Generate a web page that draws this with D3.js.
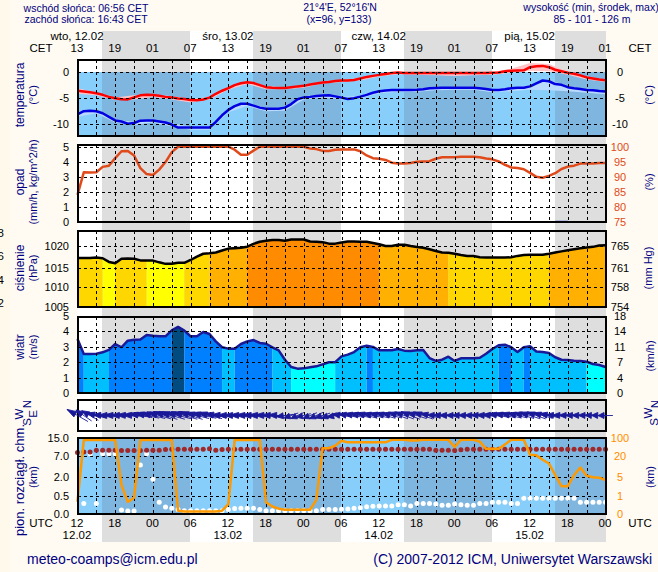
<!DOCTYPE html>
<html>
<head>
<meta charset="utf-8">
<script src="https://cdn.jsdelivr.net/npm/d3@7"></script>
<style>
    html, body { margin: 0; padding: 0; background: #fffbf2; overflow: hidden; }
    svg { display: block; }
    svg text { font-family: "Liberation Sans", Arial, sans-serif; }
</style>
</head>
<body>
<svg id="chart" width="658" height="572"></svg>
<script>
// hour 0 = 12.02 12 UTC, one value per hour
const hours = d3.range(85);
const nightBands = [[3.9, 17.9], [27.9, 41.9], [51.9, 65.9], [75.9, 84]];

const dayLabels = ["wto, 12.02", "śro, 13.02", "czw, 14.02", "pią, 15.02"];
const dateLabels = ["12.02", "13.02", "14.02", "15.02"];
const dayHours = [0, 24, 48, 72];
const cetLabels = ["13", "19", "01", "07", "13", "19", "01", "07", "13", "19", "01", "07", "13", "19", "01"];
const utcLabels = ["12", "18", "00", "06", "12", "18", "00", "06", "12", "18", "00", "06", "12", "18", "00"];

const temperature = [-3.6, -3.75, -3.9, -4.1, -4.4, -4.8, -5.05, -5.25, -5.3, -4.9, -4.5, -4.4, -4.45, -4.6, -4.8, -4.9, -5.1, -5.2, -5.4, -5.45, -5.3, -4.95, -4.2, -3.6, -3.1, -2.5, -2.15, -1.95, -2.1, -2.5, -2.9, -3, -3.05, -3.05, -2.9, -2.75, -2.65, -2.4, -2.2, -2, -1.9, -1.7, -1.6, -1.6, -1.5, -1.2, -0.9, -0.7, -0.5, -0.35, -0.15, -0.05, -0.15, -0.15, -0.15, -0.15, -0.15, -0.15, -0.15, -0.15, -0.15, -0.15, -0.15, -0.15, -0.15, -0.15, -0.1, -0.05, 0.2, 0.3, 0.35, 0.4, 1, 1.2, 1.25, 1, 0.5, 0.2, -0.1, -0.3, -0.6, -1, -1.2, -1.4, -1.55];
const dewPoint = [-8.2, -7.6, -7.5, -7.6, -8, -8.7, -9.4, -9.6, -10.05, -9.9, -9.45, -9.4, -9.4, -9.6, -9.8, -10.2, -10.8, -10.8, -10.8, -10.8, -10.8, -10.8, -9.7, -8.4, -7.35, -6.6, -6.15, -6.15, -6.5, -6.9, -7.1, -7.1, -7.1, -6.9, -6.2, -5.25, -4.9, -4.8, -4.65, -4.55, -4.5, -4.7, -4.95, -5.2, -5.05, -4.75, -4.4, -4, -3.7, -3.55, -3.45, -3.45, -3.45, -3.45, -3.4, -3.3, -3.1, -3.05, -3, -3, -3, -3, -3, -3, -3.1, -3.25, -3.45, -3.45, -3.3, -3.1, -3, -3, -2.75, -2.15, -1.6, -1.75, -2.3, -2.45, -2.9, -3.1, -3.25, -3.45, -3.5, -3.65, -3.75];

// spread around the temperature lines, one value every 3 hours
const spreadHours = d3.range(0, 85, 3);
const temperatureHigh = [-3.1, -3.9, -4.9, -4.5, -4.3, -4.7, -5.2, -4.8, -2.9, -1.7, -2.7, -2.9, -2.5, -1.8, -1.5, -1.1, -0.4, 0, -0.1, -0.1, -0.1, -0.1, 0, 0.7, 1.8, 1.6, 0.1, -0.8, -1.4];
const temperatureLow = [-4.2, -4.5, -5.4, -5.3, -4.8, -5.3, -5.9, -5.3, -3.4, -2.3, -3.3, -3.3, -3, -2.2, -1.9, -1.6, -0.8, -0.4, -0.5, -0.6, -0.7, -0.6, -0.5, -0.1, 0.3, 0.2, -0.5, -1.4, -1.9];
const dewPointHigh = [-8, -7.4, -9.2, -9.7, -9.2, -10, -10.6, -10.6, -7.2, -6, -6.9, -6.9, -4.7, -4.4, -4.8, -4.6, -3.5, -3.3, -3.2, -2.9, -2.8, -2.8, -3.3, -2.9, -2.6, -1.5, -2.7, -3.3, -3.6];
const dewPointLow = [-8.7, -8, -9.8, -10.3, -9.8, -10.6, -11.2, -11.2, -7.8, -6.6, -7.6, -7.5, -5.3, -4.9, -5.3, -5.1, -4.1, -3.8, -3.8, -3.5, -3.4, -3.4, -3.9, -3.7, -3.4, -3.5, -3.7, -4, -4.3];

const humidity = [84, 91.5, 91.4, 91.5, 93.3, 93.7, 96.2, 98.5, 98.6, 97.1, 92.9, 90.9, 90.6, 92.4, 94.9, 98.2, 100, 100, 100, 100, 100, 100, 100, 100, 100, 99, 97.3, 97.3, 98.7, 100, 100, 100, 100, 100, 100, 100, 100, 99.4, 99.2, 98.6, 98.6, 99, 99.1, 99.1, 99.1, 98.5, 97.1, 96.2, 96, 95.6, 94.7, 94.4, 94.4, 94.6, 95, 95.1, 95.2, 96, 96.5, 96.5, 96.5, 96.7, 96.7, 96.7, 96.5, 96.1, 95.8, 95.1, 94, 93.1, 92.9, 92.5, 91.3, 90, 89.7, 90.3, 91.2, 92.6, 93.4, 93.7, 94.4, 94.4, 94.4, 94.6, 94.6];
const rainHours = [76, 77];
const rainValues = [0.08, 0.08];

const pressure = [1017.2, 1017.2, 1017.2, 1017.3, 1017.15, 1016.3, 1016, 1017.05, 1017.1, 1017.05, 1016.65, 1016.65, 1016.6, 1016.2, 1015.85, 1015.85, 1016.1, 1016.1, 1016.75, 1017.55, 1018.2, 1018.3, 1018.5, 1018.95, 1019.4, 1019.5, 1019.6, 1019.85, 1020.5, 1021, 1021.2, 1021.4, 1021.4, 1021.2, 1021.5, 1021.5, 1021.5, 1021.05, 1021, 1020.9, 1020.55, 1020.55, 1020.8, 1021.05, 1021.05, 1021, 1021, 1020.7, 1020.4, 1020, 1020, 1020.3, 1020.3, 1020, 1019.75, 1019.6, 1019.25, 1018.85, 1018.5, 1018.45, 1018.2, 1017.9, 1017.65, 1017.65, 1017.4, 1017.3, 1017.3, 1017.3, 1017.3, 1017.4, 1017.7, 1017.9, 1017.95, 1017.95, 1017.95, 1018.2, 1018.5, 1018.75, 1019, 1019.25, 1019.5, 1019.65, 1019.8, 1020.1, 1020.15];
const pressureBandStarts = [0, 4, 6, 11, 17, 21, 27, 48, 59, 75];
const pressureBandEnds = [4, 6, 11, 17, 21, 27, 48, 59, 75, 84];
const pressureBandClasses = [1, 0, 1, 0, 1, 2, 3, 2, 1, 2];

const wind = [3.5, 2.53, 2.53, 2.55, 2.64, 2.8, 3.18, 2.97, 3.4, 3.46, 3.48, 3.77, 3.72, 3.68, 3.68, 4.07, 4.29, 4.05, 3.68, 3.68, 3.96, 3.83, 3.35, 2.97, 2.88, 2.88, 3.18, 3.35, 3.44, 3.25, 3.2, 2.97, 2.77, 2.16, 1.69, 1.58, 1.6, 1.67, 1.73, 1.86, 2, 2, 2.38, 2.49, 2.66, 2.97, 3.07, 2.99, 2.77, 2.77, 2.77, 2.86, 2.75, 2.73, 2.77, 2.79, 2.27, 2.08, 2.16, 2.36, 2.08, 2.25, 2.25, 2.25, 2.29, 2.55, 2.86, 3.1, 3.14, 2.97, 2.66, 2.97, 3.03, 2.7, 2.66, 2.6, 2.32, 2.16, 2.14, 2.1, 2.08, 2.03, 1.88, 1.82, 1.69];
const windBandStarts = [0, 1, 5, 15, 17, 23, 25, 31, 34, 41, 46, 47, 67, 69, 71, 72, 81];
const windBandEnds = [1, 5, 15, 17, 23, 25, 31, 34, 41, 46, 47, 67, 69, 71, 72, 81, 84];
const windBandClasses = [2, 1, 2, 3, 2, 1, 2, 1, 0, 1, 2, 1, 2, 1, 2, 1, 0];
// tilt of the wind arrows, degrees off the time axis
const windTilt = [30, 35, 30, 15, 4, 2, 2, 2, 3, 3, 10, 12, 14, 16, 18, 16, 14, 16, 18, 14, 12, 14, 10, 4, 2, 2, 2, 2, 2, 2, 2, 2, 3, -8, -20, -25, -15, -22, -25, -18, -20, -12, 8, 10, 12, 12, 14, 12, 14, 16, 14, 18, 20, 22, 18, 20, 14, 4, 3, 2, 2, 2, 2, 2, 3, 3, 4, 10, 12, 14, 14, 16, 18, 20, 16, 12, 4, 3, 2, 2, 2, 2, 2, 2, 0];

const cloudTop = [8.5, 8.7, 8.7, 9.5, 9.5, 9.5, 9.5, 9.4, 9.4, 9.4, 9.4, 9.5, 9.5, 9.5, 9.8, 9.95, 9.95, 9.95, 9.95, 9.95, 9.95, 10.1, 9.5, 9.8, 9.95, 9.95, 9.95, 9.95, 9.95, 9.95, 9.95, 9.95, 9.95, 9.95, 9.95, 9.95, 9.95, 9.95, 9.95, 9.95, 9.95, 9.95, 9.95, 9.95, 9.95, 9.95, 9.95, 9.95, 9.95, 9.95, 9.95, 9.95, 9.95, 9.95, 9.95, 9.95, 9.95, 9.5, 9.5, 9.5, 9.4, 9.7, 9.95, 9.95, 9.95, 9.95, 9.95, 9.95, 9.95, 9.95, 9.95, 9.95, 9.95, 9.95, 9.95, 9.95, 9.95, 9.95, 9.95, 9.95, 9.95, 9.95, 9.95, 9.95, 9.95];
const cloudBase = [null, 0.29, 8, 0.29, 8, 8, 8, 0.11, 0.08, 0.08, 4.8, 8, 1.8, 0.32, 0.19, 0.16, 0.12, 0.09, 0.09, 0.09, 0.09, 0.09, 0.09, 0.09, 0.12, 0.15, 0.16, 0.16, 0.16, 0.12, 0.09, 0.09, 0.09, 0.09, 0.09, 0.09, 0.09, 0.09, 0.09, 0.12, 0.125, 0.12, 0.13, 0.14, 0.16, 0.17, 0.2, 0.21, 0.22, 0.22, 0.22, 0.25, 0.25, 0.22, 0.29, 0.29, 0.29, 0.27, 0.24, 0.24, 0.27, 0.25, 0.24, 0.24, 0.29, 0.29, 0.32, 0.32, 0.32, 0.29, 0.29, 0.43, 0.43, 0.43, 0.43, 0.43, 0.43, 0.43, 0.43, 0.43, 0.32, 0.32, 0.32, 0.32, 0.32];
const visibility = [0.68, 88.8, 88.8, 88.8, 88.8, 88.8, 88.8, 3.25, 0.66, 0.89, 88.8, 88.8, 88.8, 88.8, 88.8, 88.8, 0.18, 0.14, 0.14, 0.14, 0.14, 0.14, 0.14, 0.18, 0.54, 88.8, 88.8, 88.8, 88.8, 88.8, 0.64, 0.41, 0.29, 0.23, 0.23, 0.23, 0.23, 0.23, 0.77, 53.7, 53.7, 64.9, 86, 79, 79, 79, 79, 79, 79, 79, 90, 90, 90, 87, 87, 90, 90, 90, 90, 90, 59, 90, 90, 90, 82, 50.9, 50.9, 50.9, 70, 90, 90, 90, 25.6, 22.8, 17.3, 14.6, 6.2, 3, 3, 6.2, 11.6, 5.7, 4.9, 4.8, 4.3];

const temperatureTicks = [0, -5, -10];
const humidityTicks = [100, 95, 90, 85, 80, 75];
const rainTicks = [5, 4, 3, 2, 1, 0];
const pressureTicks = [1020, 1015, 1010, 1005];
const pressureMmLabels = ["765", "761", "758", "754"];
const windTicks = [0, 1, 2, 3, 4, 5];
const windKmhLabels = ["0", "4", "7", "11", "14", "18"];
const cloudTicks = [0, 0.5, 2, 7, 15];
const cloudLabels = ["0.0", "0.5", "2.0", "7.0", "15.0"];
const visibilityTicks = [0, 1, 5, 20, 100];

const navy = "#000080";
const pressureColors = ["#ffff00", "#ffd700", "#ffb000", "#ff8c00"];
const windColors = ["#00ffff", "#00bfff", "#0080ff", "#004c80"];
const skyDay = "#87cefa", skyNight = "#7fb6e0";

const svg = d3.select("#chart");
const x = d3.scaleLinear().domain([0, 84]).range([77.5, 605.5]);

const panels = {
    temperature: { top: 60, bottom: 136 },
    rain: { top: 145, bottom: 222 },
    pressure: { top: 231, bottom: 307 },
    wind: { top: 317, bottom: 393 },
    direction: { top: 400, bottom: 431 },
    cloud: { top: 438, bottom: 514 },
};
const left = 78, right = 606;

const yTemperature = d3.scaleLinear().domain([-10, 0]).range([123.5, 72.3]);
const yRain = d3.scaleLinear().domain([0, 5]).range([222, 146.7]);
const yHumidity = d3.scaleLinear().domain([75, 100]).range([222, 146.7]);
const yPressure = d3.scaleLinear().domain([1005, 1010, 1015, 1020]).range([307, 287.3, 267.5, 246]);
const yWind = d3.scaleLinear().domain([0, 5]).range([393, 316]);
const yCloud = d3.scaleLinear().domain(cloudTicks).range([514, 495.7, 476.7, 456, 437.5]);
const yVisibility = d3.scaleLinear().domain(visibilityTicks).range([514, 495.7, 476.7, 456, 437.5]);
const arrowLength = d3.scaleLinear().domain([0, 5]).range([3, 16]);

svg.append("rect").attr("width", 10).attr("height", 572).attr("fill", "#fff9ec");

// day and night stripes
const stripes = svg.append("g").attr("shape-rendering", "crispEdges");
stripes.append("rect")
    .attr("x", left).attr("y", 31)
    .attr("width", right - left).attr("height", 511)
    .attr("fill", "#fff");
stripes.selectAll("rect.night")
    .data(nightBands)
    .join("rect")
    .attr("class", "night")
    .attr("x", d => x(d[0])).attr("y", 31)
    .attr("width", d => x(d[1]) - x(d[0])).attr("height", 511)
    .attr("fill", "#dedede");

function sky(top, bottom) {
    const g = svg.append("g").attr("shape-rendering", "crispEdges");
    g.append("rect")
        .attr("x", left).attr("y", top)
        .attr("width", right - left).attr("height", bottom - top)
        .attr("fill", skyDay);
    g.selectAll("rect.night")
        .data(nightBands)
        .join("rect")
        .attr("class", "night")
        .attr("x", d => x(d[0])).attr("y", top)
        .attr("width", d => x(d[1]) - x(d[0])).attr("height", bottom - top)
        .attr("fill", skyNight);
}

function bandArea(values, y, starts, ends, classes, colors, bottom) {
    const area = d3.area().x(h => x(h)).y0(bottom).y1(h => y(values[h]));
    svg.append("g").selectAll("path")
        .data(starts)
        .join("path")
        .attr("d", (s, i) => area(d3.range(s, ends[i] + 1)))
        .attr("fill", (s, i) => colors[classes[i]]);
}

const seriesLine = (values, y) => d3.line().defined(h => values[h] !== null).x(h => x(h)).y(h => y(values[h]))(hours);

function drawLine(values, y, color, width) {
    svg.append("path")
        .attr("d", seriesLine(values, y))
        .attr("fill", "none")
        .attr("stroke", color)
        .attr("stroke-width", width)
        .attr("stroke-linejoin", "round");
}

function spread(high, low, y, color) {
    svg.append("path")
        .attr("d", d3.area().x((h, i) => x(h)).y0((h, i) => y(low[i])).y1((h, i) => y(high[i]))(spreadHours))
        .attr("fill", color);
}

// temperatura
sky(yTemperature(0), panels.temperature.bottom);
spread(temperatureHigh, temperatureLow, yTemperature, "#ffc4c8");
spread(dewPointHigh, dewPointLow, yTemperature, "#b9d9ff");
drawLine(temperature, yTemperature, "#ff0000", 2.5);
drawLine(dewPoint, yTemperature, "#0000e0", 2.5);

// opad
drawLine(humidity, yHumidity, "#e04a1a", 2.5);
svg.append("g").selectAll("rect")
    .data(rainHours)
    .join("rect")
    .attr("x", h => x(h)).attr("width", h => x(h + 1) - x(h))
    .attr("y", (h, i) => yRain(rainValues[i]))
    .attr("height", (h, i) => yRain(0) - yRain(rainValues[i]))
    .attr("fill", "#0033cc");

// ciśnienie
bandArea(pressure, yPressure, pressureBandStarts, pressureBandEnds, pressureBandClasses, pressureColors, panels.pressure.bottom);
drawLine(pressure, yPressure, "#000", 2.5);

// wiatr
bandArea(wind, yWind, windBandStarts, windBandEnds, windBandClasses, windColors, panels.wind.bottom);
drawLine(wind, yWind, "#1a1a99", 2.5);

// rozciągłość chmur
sky(panels.cloud.top, panels.cloud.bottom);

function grid(panel, y, ticks) {
    const g = svg.append("g")
        .attr("stroke", "#000")
        .attr("stroke-dasharray", "3,3")
        .attr("shape-rendering", "crispEdges");
    g.selectAll("line.v")
        .data(d3.range(3, 84, 3))
        .join("line")
        .attr("class", "v")
        .attr("x1", h => Math.round(x(h)) + 0.5).attr("x2", h => Math.round(x(h)) + 0.5)
        .attr("y1", panel.top).attr("y2", panel.bottom);
    g.selectAll("line.h")
        .data(ticks)
        .join("line")
        .attr("class", "h")
        .attr("x1", left).attr("x2", right)
        .attr("y1", d => Math.round(y(d)) + 0.5).attr("y2", d => Math.round(y(d)) + 0.5);
}

grid(panels.temperature, yTemperature, temperatureTicks);
grid(panels.rain, yRain, [5, 4, 3, 2, 1]);
grid(panels.pressure, yPressure, [1020, 1015, 1010]);
grid(panels.wind, yWind, [1, 2, 3, 4]);
grid(panels.direction, yWind, []);
grid(panels.cloud, yCloud, [0.5, 2, 7]);

const dots = (values, color) => svg.append("g").selectAll("circle")
    .data(hours.filter(h => values[h] !== null))
    .join("circle")
    .attr("cx", h => x(h))
    .attr("cy", h => yCloud(values[h]))
    .attr("r", 2.5)
    .attr("fill", color);

dots(cloudBase, "#fff");
dots(cloudTop, "#a02828");
drawLine(visibility, yVisibility, "#ff9900", 2.5);

Object.values(panels).forEach(p => {
    svg.append("rect")
        .attr("x", left).attr("y", p.top)
        .attr("width", right - left).attr("height", p.bottom - p.top)
        .attr("fill", "none")
        .attr("stroke", "#000")
        .attr("stroke-width", 2)
        .attr("shape-rendering", "crispEdges");
});

// wind arrows, head at the upwind end
const windY = 415.5;
const arrows = svg.append("g").attr("stroke", "#1a1a99").attr("fill", "#1a1a99");
arrows.selectAll("path")
    .data(hours)
    .join("path")
    .attr("d", h => {
        const a = windTilt[h] * Math.PI / 180, len = arrowLength(wind[h]);
        const dx = Math.cos(a) * len, dy = Math.sin(a) * len;
        const cx = x(h), nx = -Math.sin(a) * 3, ny = Math.cos(a) * 3;
        return `M${cx - dx},${windY - dy}L${cx + dx},${windY + dy}`
            + `M${cx - dx},${windY - dy}L${cx - dx * 0.2 + nx},${windY - dy * 0.2 + ny}L${cx - dx * 0.2 - nx},${windY - dy * 0.2 - ny}Z`;
    })
    .attr("stroke-width", 0.9);

function styleAxis(g, color, size) {
    g.select(".domain").remove();
    g.selectAll(".tick line").remove();
    g.selectAll("text").attr("fill", color).style("font-size", size + "px");
}

function leftAxis(y, ticks, format) {
    const g = svg.append("g").attr("transform", `translate(${left - 9},0)`)
        .call(d3.axisLeft(y).tickValues(ticks).tickSize(0).tickPadding(0).tickFormat(format || (d => d)));
    styleAxis(g, "#000", 11);
}

function rightAxis(y, ticks, format, color) {
    const g = svg.append("g").attr("transform", "translate(620,0)")
        .call(d3.axisRight(y).tickValues(ticks).tickSize(0).tickPadding(0).tickFormat(format || (d => d)));
    styleAxis(g, color, 11);
    g.selectAll("text").attr("text-anchor", "middle");
}

leftAxis(yTemperature, temperatureTicks);
rightAxis(yTemperature, temperatureTicks, null, "#000");
leftAxis(yRain, rainTicks);
rightAxis(yHumidity, humidityTicks, null, "#e04a1a");
leftAxis(yPressure, pressureTicks);
rightAxis(yPressure, pressureTicks, (d, i) => pressureMmLabels[i], "#000");
leftAxis(yWind, windTicks);
rightAxis(yWind, windTicks, (d, i) => windKmhLabels[i], "#000");
leftAxis(yCloud, cloudTicks, (d, i) => cloudLabels[i]);
rightAxis(yVisibility, visibilityTicks, null, "#ff8c00");

function timeAxis(axis, y, tickValues, labels) {
    const g = svg.append("g").attr("transform", `translate(-1,${y})`)
        .call(axis(x).tickValues(tickValues).tickSize(0).tickPadding(0).tickFormat((d, i) => labels[i]));
    styleAxis(g, "#000", 11.5);
}

timeAxis(d3.axisTop, 40, dayHours, dayLabels);
timeAxis(d3.axisTop, 52, d3.range(0, 85, 6), cetLabels);
timeAxis(d3.axisBottom, 519, d3.range(0, 85, 6), utcLabels);
timeAxis(d3.axisBottom, 531, dayHours, dateLabels);

function label(text, px, py, options = {}) {
    svg.append("text")
        .attr("transform", `translate(${px},${py})` + (options.rotate ? " rotate(-90)" : ""))
        .attr("text-anchor", options.anchor || "middle")
        .attr("fill", options.color || navy)
        .style("font-size", (options.size || 11.5) + "px")
        .text(text);
}

label("CET", 41, 52, { color: "#000" });
label("CET", 640, 52, { color: "#000" });
label("UTC", 41, 527, { color: "#000" });
label("UTC", 640, 527, { color: "#000" });

label("wschód słońca: 06:56 CET", 86, 12, { size: 10.5 });
label("zachód słońca: 16:43 CET", 86, 23, { size: 10.5 });
label("21°4'E, 52°16'N", 340, 11, { size: 10.5 });
label("(x=96,  y=133)", 339, 23, { size: 10.5 });
label("wysokość (min, środek, max)", 591, 11, { size: 10.5 });
label("85 - 101 - 126 m", 592, 23, { size: 10.5 });

const titles = [
    ["temperatura", 24, 95, 12], ["(°C)", 37, 95, 11],
    ["opad", 24, 182, 12], ["(mm/h, kg/m^2/h)", 37, 182, 11],
    ["ciśnienie", 24, 268, 12], ["(hPa)", 37, 268, 11],
    ["wiatr", 24, 347, 12], ["(m/s)", 37, 347, 11],
    ["pion. rozciągł. chm.", 24, 480, 13], ["(km)", 37, 477, 11],
    ["(°C)", 653, 95, 11], ["(%)", 653, 182, 11], ["(mm Hg)", 652, 268, 11], ["(km/h)", 654, 356, 11], ["(km)", 654, 477, 11],
];
titles.forEach(t => label(t[0], t[1], t[2], { rotate: true, size: t[3] }));

[["N", 31, 404], ["W", 23, 414], ["E", 37, 414], ["S", 31, 422], ["N", 659, 404], ["W", 652, 413], ["S", 658, 422]]
    .forEach(t => label(t[0], t[1], t[2], { rotate: true, size: 11.5 }));

[["8", 233], ["6", 256], ["4", 280], ["2", 303]].forEach(t => label(t[0], 4, t[1] + 4, { anchor: "end", color: "#000" }));

label("meteo-coamps@icm.edu.pl", 27, 564, { anchor: "start", size: 14 });
label("(C) 2007-2012 ICM, Uniwersytet Warszawski", 652, 564, { anchor: "end", size: 14 });
</script>
</body>
</html>
